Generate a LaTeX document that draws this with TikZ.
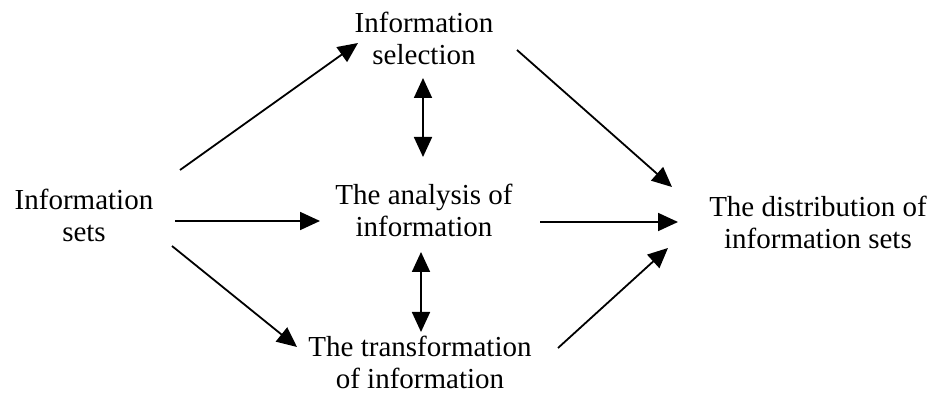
\documentclass[tikz,border=0pt]{standalone}
\usepackage{fontspec}
\setmainfont{Liberation Serif}
\usetikzlibrary{arrows.meta,calc}
\begin{document}
\begin{tikzpicture}[x=1pt,y=-1pt,
  label/.style={align=center,inner sep=0pt,font=\fontsize{29}{32}\selectfont},
  flow/.style={line width=1.8pt,-{Triangle[length=20pt,width=18pt]}},
  both/.style={line width=1.8pt,{Triangle[length=20pt,width=18pt]}-{Triangle[length=20pt,width=18pt]}}]
\useasboundingbox (0,0) rectangle (932,395);
% stages of the information process
\node[label] (sets)  at (84,215)  {Information\\sets};
\node[label] (sel)   at (424,38)  {Information\\selection};
\node[label] (ana)   at (424,210) {The analysis of\\information};
\node[label] (trans) at (420,362) {The transformation\\of information};
\node[label] (dist)  at (818,222) {The distribution of\\information sets};
% flows out of the information sets
\draw[flow] ($(sets)+(96,-45)$) -- ($(sel)+(-66,5)$);
\draw[flow] ($(sets)+(91,6)$)   -- ($(ana)+(-104,11)$);
\draw[flow] ($(sets)+(88,31)$)  -- ($(trans)+(-123,-15)$);
% flows into the distribution
\draw[flow] ($(sel)+(93,12)$)   -- ($(dist)+(-146,-35)$);
\draw[flow] ($(ana)+(116,12)$)  -- ($(dist)+(-140,0)$);
\draw[flow] ($(trans)+(138,-14)$) -- ($(dist)+(-150,26)$);
% two-way links with the analysis stage
\draw[both] ($(sel)+(-1,40)$) -- ($(ana)+(-1,-53)$);
\draw[both] ($(ana)+(-3,42)$) -- ($(trans)+(1,-30)$);
\end{tikzpicture}
\end{document}
